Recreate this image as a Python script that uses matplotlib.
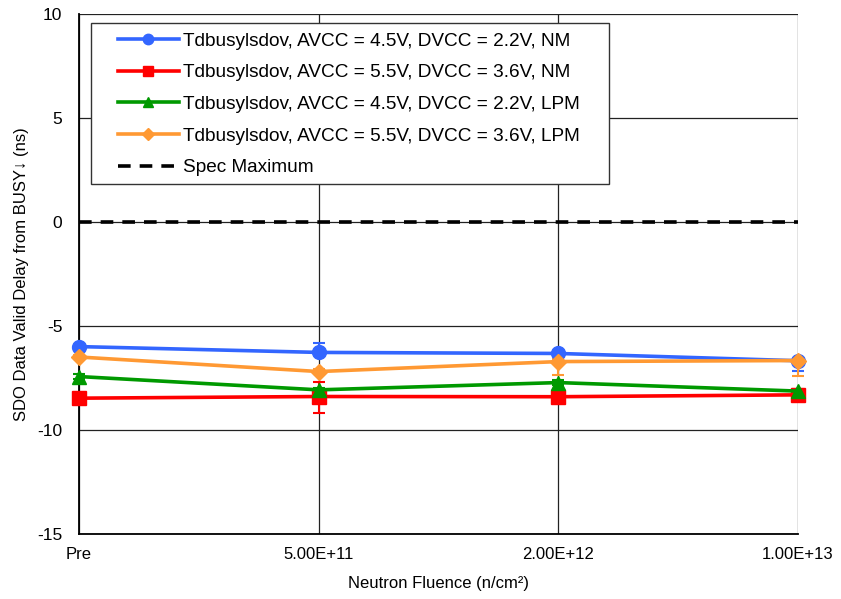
import matplotlib
matplotlib.use("Agg")
import matplotlib.pyplot as plt
from matplotlib.lines import Line2D
from matplotlib.patches import Rectangle
import numpy as np

plt.rcParams['font.family'] = ['Liberation Sans', 'DejaVu Sans']
plt.rcParams['axes.unicode_minus'] = False

categories = ["Pre", "5.00E+11", "2.00E+12", "1.00E+13"]

nm_45_22 = [-5.99, -6.27, -6.32, -6.67]
nm_45_22_err_lo = [0.1, 0.1, 0.1, 0.51]
nm_45_22_err_hi = [0.1, 0.45, 0.1, 0.1]
nm_55_36 = [-8.47, -8.39, -8.40, -8.31]
nm_55_36_err_lo = [0.1, 0.8, 0.1, 0.1]
nm_55_36_err_hi = [0.1, 0.7, 0.1, 0.1]
lpm_45_22 = [-7.43, -8.07, -7.72, -8.13]
lpm_45_22_err_lo = [0.1, 0.1, 0.1, 0.1]
lpm_45_22_err_hi = [0.1, 0.1, 0.1, 0.1]
lpm_55_36 = [-6.49, -7.19, -6.71, -6.66]
lpm_55_36_err_lo = [0.1, 0.1, 0.64, 0.72]
lpm_55_36_err_hi = [0.1, 0.1, 0.1, 0.1]
spec_max = 0.0

series = [
    ("Tdbusylsdov, AVCC = 4.5V, DVCC = 2.2V, NM", nm_45_22, nm_45_22_err_lo, nm_45_22_err_hi, "#3366ff", "o"),
    ("Tdbusylsdov, AVCC = 5.5V, DVCC = 3.6V, NM", nm_55_36, nm_55_36_err_lo, nm_55_36_err_hi, "#ff0000", "s"),
    ("Tdbusylsdov, AVCC = 4.5V, DVCC = 2.2V, LPM", lpm_45_22, lpm_45_22_err_lo, lpm_45_22_err_hi, "#009900", "^"),
    ("Tdbusylsdov, AVCC = 5.5V, DVCC = 3.6V, LPM", lpm_55_36, lpm_55_36_err_lo, lpm_55_36_err_hi, "#ff9933", "D"),
]

W, H = 841, 599
fig = plt.figure(figsize=(W / 100, H / 100), dpi=100)
ax = fig.add_axes([79 / W, 1 - 534 / H, (798 - 79) / W, (534 - 14) / H])

x = np.arange(len(categories))
ms = {"o": 10, "s": 9.5, "^": 10, "D": 8}
ms_leg = {"o": 7.5, "s": 7, "^": 7.5, "D": 6}
handles = []
for label, vals, lo, hi, color, marker in series:
    ax.errorbar(x, vals, yerr=[lo, hi], color=color, marker=marker, markersize=ms[marker],
                linewidth=2.6, elinewidth=1.5, capsize=4, capthick=1.5,
                zorder=3, clip_on=False)
    handles.append(Line2D([], [], color=color, marker=marker, markersize=ms_leg[marker],
                          linewidth=2.6, label=label))

ax.plot([x[0], x[-1]], [spec_max, spec_max], color="black", linestyle=(0, (3.5, 2.5)),
        linewidth=2.6, zorder=2.5)
handles.append(Line2D([], [], color="black", linestyle=(0, (3.5, 2.5)), linewidth=2.6,
                      label="Spec Maximum"))

ax.set_xlim(0, len(categories) - 1)
ax.set_ylim(-15, 10)
ax.set_yticks(np.arange(-15, 11, 5))
ax.set_xticks(x)
ax.set_xticklabels(categories)
ax.tick_params(axis="y", length=0, labelsize=12.5, pad=12, colors="black")
ax.tick_params(axis="x", length=0, labelsize=12, pad=9.5, colors="black")
ax.grid(True, color="#222222", linewidth=0.9)
ax.set_axisbelow(True)
for side in ["top", "right"]:
    ax.spines[side].set_visible(False)
for side in ["left", "bottom"]:
    ax.spines[side].set_linewidth(1.3)
    ax.spines[side].set_color("black")

ax.set_xlabel("Neutron Fluence (n/cm²)", fontsize=12, labelpad=10)
ax.set_ylabel("SDO Data Valid Delay from BUSY↓ (ns)", fontsize=12, labelpad=6)

# legend box
frame = Rectangle((91 / W, 1 - 184 / H), 518 / W, 161 / H, transform=fig.transFigure,
                  facecolor="white", edgecolor="#333333", linewidth=1.0, zorder=4)
fig.add_artist(frame)
leg = fig.legend(handles=handles, loc="upper left", bbox_to_anchor=(118 / W, 1 - 32.5 / H),
                 fontsize=13.7, frameon=False, borderpad=0, borderaxespad=0,
                 handlelength=3.2, handletextpad=0.2, labelspacing=0.75)
leg.set_zorder(5)

fig.savefig("out.png", dpi=100)
